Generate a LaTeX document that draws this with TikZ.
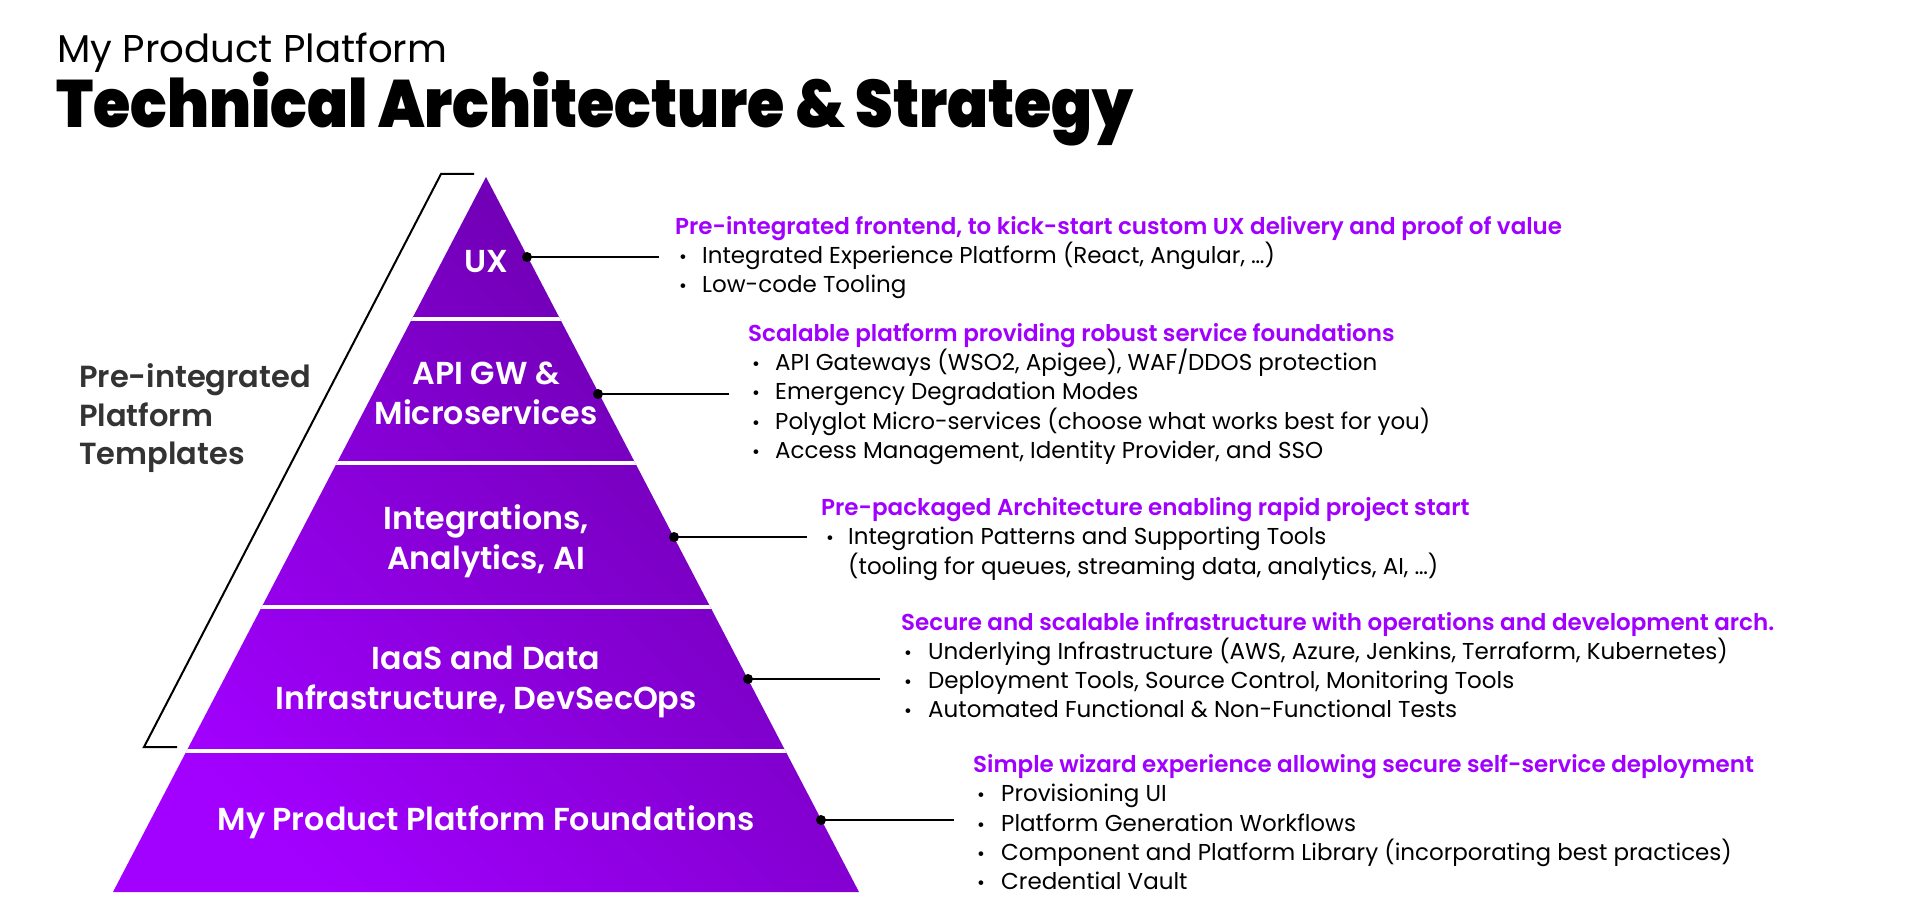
\documentclass[tikz,border=0pt]{standalone}
\usepackage{graphicx}
\usepackage{fontspec}
\setmainfont{Poppins}
\IfFontExistsTF{Poppins SemiBold}{\newfontfamily\semibf{Poppins SemiBold}}{\def\semibf{\bfseries}}
\IfFontExistsTF{Poppins Black}{\newfontfamily\blackf{Poppins Black}}{\def\blackf{\bfseries}}
\usetikzlibrary{calc}
\definecolor{accpurple}{HTML}{A100FF}
\definecolor{pyrdark}{HTML}{6800A8}
\definecolor{pyrlight}{HTML}{A200FF}
\definecolor{labelgray}{HTML}{333333}
\begin{document}
\begin{tikzpicture}[x=1pt,y=-1pt,
  body/.style={anchor=base west, inner sep=0pt, font=\fontsize{23}{28}\selectfont, text=black},
  head/.style={anchor=base west, inner sep=0pt, font=\semibf\fontsize{23}{28}\selectfont, text=accpurple},
  bul/.style={anchor=base west, inner sep=0pt, font=\fontsize{19}{28}\selectfont, text=black},
  layer/.style={text=white, font=\semibf\fontsize{31.7}{40}\selectfont, align=center, inner sep=0pt},
  dot/.style={circle, fill=black, inner sep=0pt, minimum size=10pt},
  conn/.style={line width=2pt, black},
  bracket/.style={line width=2pt, black},
  gap/.style={white, line width=4pt}
]
\useasboundingbox[fill=white] (0,0) rectangle (1911,920);

% titles
\node[anchor=base west, inner sep=0pt, font=\fontsize{38.7}{50}\selectfont] (sub) at (57,63) {My Product Platform};
\node[anchor=base west, inner sep=0pt, font=\blackf\fontsize{67}{80}\selectfont] (title) at (56,128) {\scalebox{0.9}[1]{Technical Architecture \& Strategy}};

% pyramid
\coordinate (apex) at (486,177);
\coordinate (bl) at (113,892);
\coordinate (br) at (859,892);
\begin{scope}
  \clip (apex) -- (bl) -- (br) -- cycle;
  \shade[top color=pyrdark, bottom color=pyrlight, shading angle=-45] (113,177) rectangle (859,892);
  \draw[gap] (100,319) -- (870,319);
  \draw[gap] (100,463) -- (870,463);
  \draw[gap] (100,607) -- (870,607);
  \draw[gap] (100,751) -- (870,751);
\end{scope}

% layer labels
\node[layer] (ux) at (486,262) {UX};
\node[layer] (api) at (486,393.5) {API GW \&\\Microservices};
\node[layer] (int) at (486,541) {Integrations,\\Analytics, AI};
\node[layer] (iaas) at (486,681.5) {IaaS and Data\\Infrastructure, DevSecOps};
\node[layer] (found) at (486,822.5) {My Product Platform Foundations};

% bracket
\coordinate (bt1) at (474,174);
\coordinate (bt2) at (441,174);
\coordinate (bb1) at (144,747);
\coordinate (bb2) at (177,747);
\draw[bracket] (bt1) -- (bt2) -- (bb1) -- (bb2);
\node[anchor=west, inner sep=0pt, align=left, text=labelgray, font=\semibf\fontsize{30.5}{38.5}\selectfont] (tmpl) at (79,418.5) {Pre-integrated\\Platform\\Templates};

% dots and connectors
\node[dot] (d1) at (527,257) {};
\node[dot] (d2) at (598,394) {};
\node[dot] (d3) at (674,537) {};
\node[dot] (d4) at (748,679) {};
\node[dot] (d5) at (821,820) {};
\coordinate (e1) at (659,257);
\coordinate (e2) at (729,394);
\coordinate (e3) at (807,537);
\coordinate (e4) at (880,679);
\coordinate (e5) at (954,820);
\draw[conn] (d1.center) -- (e1);
\draw[conn] (d2.center) -- (e2);
\draw[conn] (d3.center) -- (e3);
\draw[conn] (d4.center) -- (e4);
\draw[conn] (d5.center) -- (e5);

% block 1
\node[head] (h1) at (675,234) {Pre-integrated frontend, to kick-start custom UX delivery and proof of value};
\node[bul] (b11) at (679,263.2) {•};
\node[body] (t11) at (702,263.2) {Integrated Experience Platform (React, Angular, …)};
\node[bul] (b12) at (679,292.5) {•};
\node[body] (t12) at (702,292.5) {Low-code Tooling};

% block 2
\node[head] (h2) at (748,341.2) {Scalable platform providing robust service foundations};
\node[bul] (b21) at (752,370.5) {•};
\node[body] (t21) at (775,370.5) {API Gateways (WSO2, Apigee), WAF/DDOS protection};
\node[bul] (b22) at (752,399.7) {•};
\node[body] (t22) at (775,399.7) {Emergency Degradation Modes};
\node[bul] (b23) at (752,429) {•};
\node[body] (t23) at (775,429) {Polyglot Micro-services (choose what works best for you)};
\node[bul] (b24) at (752,458.2) {•};
\node[body] (t24) at (775,458.2) {Access Management, Identity Provider, and SSO};

% block 3
\node[head] (h3) at (821,515.5) {Pre-packaged Architecture enabling rapid project start};
\node[bul] (b31) at (826,544.7) {•};
\node[body] (t31) at (848,544.7) {Integration Patterns and Supporting Tools};
\node[body] (t32) at (848,574) {(tooling for queues, streaming data, analytics, AI, …)};

% block 4
\node[head] (h4) at (901,630.1) {Secure and scalable infrastructure with operations and development arch.};
\node[bul] (b41) at (904,659.3) {•};
\node[body] (t41) at (928,659.3) {Underlying Infrastructure (AWS, Azure, Jenkins, Terraform, Kubernetes)};
\node[bul] (b42) at (904,688.6) {•};
\node[body] (t42) at (928,688.6) {Deployment Tools, Source Control, Monitoring Tools};
\node[bul] (b43) at (904,717.8) {•};
\node[body] (t43) at (928,717.8) {Automated Functional \& Non-Functional Tests};

% block 5
\node[head] (h5) at (973,772.7) {Simple wizard experience allowing secure self-service deployment};
\node[bul] (b51) at (977,801.9) {•};
\node[body] (t51) at (1001,801.9) {Provisioning UI};
\node[bul] (b52) at (977,831.2) {•};
\node[body] (t52) at (1001,831.2) {Platform Generation Workflows};
\node[bul] (b53) at (977,860.4) {•};
\node[body] (t53) at (1001,860.4) {Component and Platform Library (incorporating best practices)};
\node[bul] (b54) at (977,889.7) {•};
\node[body] (t54) at (1001,889.7) {Credential Vault};
\end{tikzpicture}
\end{document}
